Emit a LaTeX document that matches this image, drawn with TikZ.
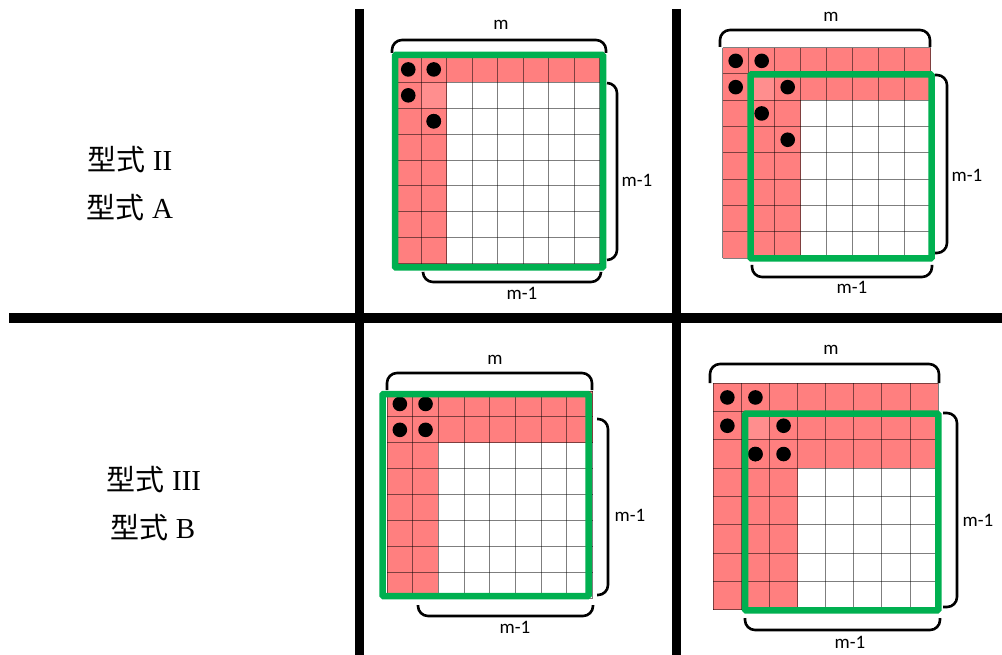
\documentclass[tikz,border=0pt]{standalone}
\usepackage{fontspec}
\setmainfont{Liberation Serif}
\newfontfamily\cjk{Noto Sans CJK SC}
\newfontfamily\labf{Carlito}
\definecolor{pinkc}{HTML}{FF7F7F}
\definecolor{pinkl}{HTML}{FF8E8E}
\definecolor{greenc}{HTML}{00B050}
\tikzset{
  gridl/.style={draw=black, draw opacity=0.5, line width=1pt},
  greenbox/.style={draw=greenc, line width=6.5pt, rounded corners=1pt},
  bracel/.style={draw=black, line width=2.6pt, rounded corners=10pt},
  divider/.style={draw=black, line width=9.5pt},
  dimlab/.style={font=\labf\fontsize{19}{21}\selectfont, inner sep=0pt},
  typelab/.style={font=\fontsize{29}{32}\selectfont, inner sep=0pt},
  dotc/.style={fill=black}
}
% #1 x0, #2 y0, #3 cw, #4 ch, #5 pink rows, #6 pink cols, #7 dots c/r list
\newcommand\mygrid[7]{%
  \fill[pinkc] (#1,#2) rectangle (#1+8*#3, #2+#5*#4);
  \fill[pinkc] (#1,#2) rectangle (#1+#6*#3, #2+8*#4);
  \foreach \i in {0,...,8} {
    \draw[gridl] (#1+\i*#3, #2) -- (#1+\i*#3, #2+8*#4);
    \draw[gridl] (#1, #2+\i*#4) -- (#1+8*#3, #2+\i*#4);
  }
  \foreach \c/\r in {#7} {
    \fill[dotc] (#1+\c*#3+0.5*#3, #2+\r*#4+0.5*#4) circle (7.3pt);
  }
}
\newcommand\lightcell[4]{%
  \fill[pinkl] (#1+#3+0.6, #2+#4+0.6) rectangle (#1+2*#3-0.6, #2+2*#4-0.6);
}
% top brace: x1,x2,ytop,yopen
\newcommand\bracetop[4]{\draw[bracel] (#1,#4) -- (#1,#3) -- (#2,#3) -- (#2,#4);}
% right brace: xopen,xback,y1,y2
\newcommand\braceright[4]{\draw[bracel] (#1,#3) -- (#2,#3) -- (#2,#4) -- (#1,#4);}
% bottom brace: x1,x2,yopen,yback
\newcommand\bracebot[4]{\draw[bracel] (#1,#3) -- (#1,#4) -- (#2,#4) -- (#2,#3);}
\begin{document}
\begin{tikzpicture}[x=1pt,y=-1pt]
\useasboundingbox (0,0) rectangle (1002,655);
\fill[white] (0,0) rectangle (1002,655);

% dividers
\draw[divider] (359.5,9) -- (359.5,655);
\draw[divider] (676.5,9) -- (676.5,655);
\draw[divider] (9,318) -- (1002,318);

% type labels
\node[typelab] (t1) at (130,160) {{\cjk 型式}~II};
\node[typelab] (t2) at (130,208) {{\cjk 型式}~A};
\node[typelab] (t3) at (154,480) {{\cjk 型式}~III};
\node[typelab] (t4) at (153,528) {{\cjk 型式}~B};

% ---- grid 1 (top left)
\mygrid{395.5}{56.5}{25.5}{25.9}{1}{2}{0/0,1/0,0/1,1/2}
\lightcell{395.5}{56.5}{25.5}{25.9}
\fill[dotc] (395.5+1.5*25.5, 56.5+2.5*25.9) circle (7.3pt);
\draw[greenbox] (395,55) rectangle (603,267.5);
\bracetop{392}{606}{40}{53}
\braceright{607}{617}{83}{260}
\bracebot{423}{601}{273}{282}
\node[dimlab] (m1) at (501,25) {m};
\node[dimlab] (r1) at (637,180) {m-1};
\node[dimlab] (b1) at (522,293) {m-1};

% ---- grid 2 (top right)
\mygrid{722.7}{47.7}{26}{26.3}{2}{3}{0/0,1/0,0/1,2/1,1/2,2/3}
\lightcell{722.7}{47.7}{26}{26.3}
\draw[greenbox] (750.5,74.5) rectangle (931.5,258.5);
\bracetop{720}{930}{30}{47}
\braceright{935}{947}{75}{253}
\bracebot{752}{932}{265}{277}
\node[dimlab] (m2) at (831,17) {m};
\node[dimlab] (r2) at (967,175) {m-1};
\node[dimlab] (b2) at (852,287) {m-1};

% ---- grid 3 (bottom left)
\mygrid{387}{391}{25.7}{25.9}{2}{2}{0/0,1/0,0/1,1/1}
\draw[greenbox] (382.5,394) rectangle (588.5,596);
\bracetop{387}{592}{373}{390}
\braceright{597}{608}{419}{595}
\bracebot{418}{593}{605}{616}
\node[dimlab] (m3) at (495,360) {m};
\node[dimlab] (r3) at (630,515) {m-1};
\node[dimlab] (b3) at (515,627) {m-1};

% ---- grid 4 (bottom right)
\mygrid{713.3}{383.3}{28.1}{28.3}{3}{3}{0/0,1/0,0/1,2/1,1/2,2/2}
\lightcell{713.3}{383.3}{28.1}{28.3}
\fill[dotc] (713.3+1.5*28.1, 383.3+2.5*28.3) circle (7.3pt);
\draw[greenbox] (745,413.7) rectangle (938.3,610.3);
\bracetop{710}{939}{364}{383}
\braceright{943}{957}{413}{607}
\bracebot{745}{940}{618}{630}
\node[dimlab] (m4) at (831,350) {m};
\node[dimlab] (r4) at (978,520) {m-1};
\node[dimlab] (b4) at (850,642) {m-1};
\end{tikzpicture}
\end{document}
